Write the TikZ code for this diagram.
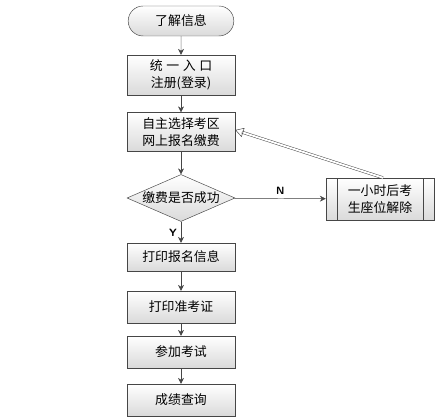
\documentclass[tikz,border=0pt]{standalone}
\usepackage{fontspec}
\newfontfamily\cjk{Noto Sans CJK SC}
\usepackage{xcolor}
\definecolor{linegray}{RGB}{70,70,70}
\definecolor{boxgray}{RGB}{218,218,218}
\usetikzlibrary{calc}
\usetikzlibrary{arrows.meta}
\usetikzlibrary{shapes.geometric}
\usetikzlibrary{shapes.misc}
\newcommand{\widthstep}{3.24cm}
\tikzset{
    common/.style={draw=linegray, top color=white, bottom color=boxgray, font=\cjk\fontsize{11}{14.5}\selectfont, align=center, inner sep=1pt},
    stepbox/.style={common, rectangle, minimum width=\widthstep, minimum height=0.96cm},
    twobox/.style={stepbox, minimum height=1.2cm},
    terminal/.style={common, rounded rectangle, minimum width=\widthstep, minimum height=0.9cm},
    decision/.style={common, diamond, aspect=2.3, minimum width=\widthstep, minimum height=1.41cm, inner sep=0pt},
    subproc/.style={twobox, minimum height=1.26cm,
        path picture={
            \draw[linegray]
                ([xshift=0.33cm]path picture bounding box.south west) -- ([xshift=0.33cm]path picture bounding box.north west)
                ([xshift=-0.33cm]path picture bounding box.south east) -- ([xshift=-0.33cm]path picture bounding box.north east);
        }
    },
    flow/.style={->, >={Stealth[length=5pt, width=5pt]}, draw=linegray, fill=linegray},
    back/.style={double=white, draw=linegray, double distance=1.6pt, shorten >=6pt},
    backtip/.style={-{Triangle[open, length=7pt, width=8pt]}, draw=linegray, fill=white},
    yn/.style={font=\sffamily\bfseries\small}
}
\begin{document}
\begin{tikzpicture}
            \useasboundingbox (0,0) rectangle (13.26,-12.57);
            \path
                (5.43,-0.63) node[terminal] (info) {了解信息}
                +(0,-1.62) node[twobox] (login) {统\;一\;入\;口\\注册(登录)}
                +(0,-3.33) node[twobox, minimum height=1.17cm] (apply) {自主选择考区\\网上报名缴费}
                +(0,-5.31) node[decision] (paid) {缴费是否成功}
                +(0,-7.08) node[stepbox, minimum height=0.84cm] (print) {打印报名信息}
                +(0,-8.58) node[stepbox] (ticket) {打印准考证}
                +(0,-9.93) node[stepbox] (exam) {参加考试}
                +(0,-11.37) node[stepbox] (score) {成绩查询};

            \node[subproc] (release) at (11.4,-5.97) {一小时后考\\生座位解除};

            \draw[flow] (info) -- (login);
            \draw[flow] (login) -- (apply);
            \draw[flow] (apply) -- (paid);
            \draw[flow] (paid) -- node[yn, left, pos=0.55] {Y} (print);
            \draw[flow] (paid) -- node[yn, above, pos=0.5] {N} (release);
            \draw[flow] (print) -- (ticket);
            \draw[flow] (ticket) -- (exam);
            \draw[flow] (exam) -- (score);

            % back to the payment step
            \coordinate (back-start) at ([xshift=0.09cm]release.north);
            \coordinate (back-end) at ([yshift=0.06cm]apply.east);
            \draw[back] (back-start) -- (back-end);
            \draw[backtip] ($(back-end)!7pt!(back-start)$) -- (back-end);
\end{tikzpicture}
\end{document}
